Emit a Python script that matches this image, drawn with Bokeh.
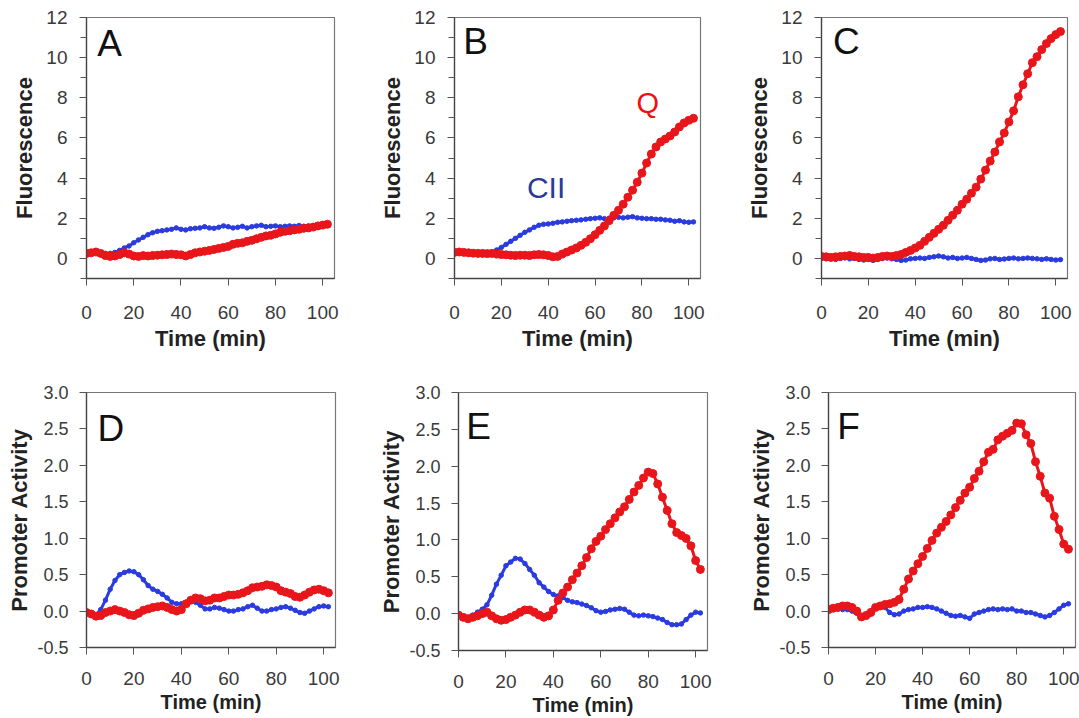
from bokeh.plotting import figure
from bokeh.layouts import column, row
from bokeh.models import FixedTicker, Range1d, Label, NumeralTickFormatter
from bokeh.embed import file_html
from bokeh.resources import INLINE

TIME = list(range(0, 104, 2))

A_CII = [0.30, 0.32, 0.30, 0.28, 0.25, 0.25, 0.30, 0.40, 0.52, 0.62, 0.78, 0.92, 1.05, 1.18, 1.28, 1.35, 1.38, 1.42, 1.45, 1.52,
         1.45, 1.42, 1.48, 1.50, 1.52, 1.58, 1.52, 1.50, 1.55, 1.62, 1.58, 1.52, 1.55, 1.60, 1.52, 1.58, 1.62, 1.65, 1.58, 1.60,
         1.62, 1.58, 1.60, 1.62, 1.60, 1.64, 1.60, 1.62, 1.62, 1.65, 1.66, 1.68]
A_Q = [0.25, 0.28, 0.32, 0.25, 0.15, 0.10, 0.12, 0.20, 0.28, 0.22, 0.12, 0.10, 0.14, 0.12, 0.15, 0.16, 0.18, 0.20, 0.22, 0.20,
       0.18, 0.12, 0.20, 0.28, 0.32, 0.36, 0.40, 0.45, 0.50, 0.55, 0.60, 0.70, 0.75, 0.78, 0.85, 0.90, 0.98, 1.05, 1.12, 1.15,
       1.22, 1.30, 1.35, 1.38, 1.42, 1.45, 1.50, 1.52, 1.56, 1.62, 1.66, 1.70]
B_CII = [0.30, 0.32, 0.30, 0.28, 0.28, 0.25, 0.25, 0.28, 0.32, 0.42, 0.55, 0.70, 0.85, 1.00, 1.15, 1.30, 1.42, 1.55, 1.65, 1.70,
         1.72, 1.75, 1.80, 1.82, 1.85, 1.88, 1.90, 1.92, 1.95, 1.98, 2.00, 2.02, 1.98, 2.00, 2.02, 2.05, 2.02, 2.05, 2.08, 2.02,
         2.00, 1.98, 1.98, 1.95, 1.95, 1.92, 1.90, 1.85, 1.88, 1.82, 1.80, 1.82]
B_Q = [0.30, 0.32, 0.30, 0.28, 0.26, 0.25, 0.25, 0.24, 0.25, 0.22, 0.20, 0.18, 0.16, 0.15, 0.16, 0.16, 0.15, 0.18, 0.20, 0.18,
       0.15, 0.08, 0.10, 0.22, 0.32, 0.42, 0.52, 0.65, 0.80, 0.98, 1.18, 1.40, 1.62, 1.88, 2.15, 2.40, 2.70, 3.05, 3.40, 3.80,
       4.25, 4.75, 5.20, 5.55, 5.80, 5.95, 6.10, 6.30, 6.55, 6.75, 6.88, 6.98]
C_CII = [0.00, -0.02, 0.02, -0.05, 0.00, 0.03, -0.02, 0.00, -0.05, -0.08, -0.05, -0.10, -0.05, 0.00, 0.02, -0.02, -0.05, -0.10,
         -0.08, -0.02, 0.00, 0.02, 0.00, 0.05, 0.08, 0.12, 0.08, 0.02, 0.05, 0.00, 0.02, 0.05, 0.00, -0.05, -0.10, -0.08, -0.02,
         0.00, -0.05, -0.03, 0.00, 0.02, -0.02, 0.00, 0.02, 0.00, -0.02, -0.05, -0.02, -0.05, -0.08, -0.06]
C_Q = [0.10, 0.08, 0.05, 0.08, 0.10, 0.12, 0.15, 0.10, 0.08, 0.05, 0.05, 0.02, 0.05, 0.10, 0.12, 0.10, 0.15, 0.20, 0.30, 0.40,
       0.52, 0.65, 0.85, 1.05, 1.25, 1.45, 1.65, 1.90, 2.15, 2.40, 2.70, 2.95, 3.25, 3.55, 3.95, 4.40, 4.85, 5.30, 5.80, 6.25,
       6.80, 7.35, 8.05, 8.65, 9.20, 9.75, 10.05, 10.40, 10.70, 10.95, 11.15, 11.30]
D_CII = [-0.02, -0.03, -0.05, 0.02, 0.15, 0.30, 0.42, 0.50, 0.53, 0.55, 0.54, 0.50, 0.43, 0.35, 0.30, 0.27, 0.23, 0.18, 0.12,
         0.10, 0.10, 0.12, 0.14, 0.12, 0.08, 0.03, 0.03, 0.05, 0.04, 0.02, 0.00, 0.00, 0.02, 0.03, 0.06, 0.08, 0.04, 0.00, 0.00,
         0.02, 0.03, 0.05, 0.06, 0.04, 0.01, -0.02, -0.03, 0.00, 0.03, 0.06, 0.07, 0.06]
D_Q = [-0.02, -0.04, -0.07, -0.06, -0.02, 0.00, 0.02, 0.00, -0.02, -0.05, -0.06, -0.03, 0.01, 0.03, 0.05, 0.06, 0.07, 0.05,
       0.02, 0.00, 0.02, 0.10, 0.15, 0.18, 0.17, 0.14, 0.15, 0.18, 0.18, 0.20, 0.22, 0.22, 0.23, 0.25, 0.28, 0.32, 0.33, 0.34,
       0.36, 0.35, 0.33, 0.28, 0.26, 0.24, 0.20, 0.19, 0.22, 0.26, 0.29, 0.30, 0.28, 0.25]
E_CII = [-0.02, -0.04, -0.05, -0.02, 0.02, 0.06, 0.12, 0.25, 0.40, 0.52, 0.65, 0.70, 0.75, 0.74, 0.68, 0.60, 0.52, 0.42, 0.36,
         0.30, 0.26, 0.24, 0.22, 0.18, 0.16, 0.15, 0.13, 0.11, 0.08, 0.04, 0.02, 0.03, 0.05, 0.06, 0.07, 0.06, 0.02, -0.02, -0.03,
         -0.02, -0.03, -0.04, -0.06, -0.08, -0.12, -0.15, -0.15, -0.14, -0.08, -0.02, 0.02, 0.01]
E_Q = [-0.02, -0.05, -0.07, -0.05, -0.03, 0.00, 0.02, -0.03, -0.07, -0.09, -0.08, -0.05, -0.02, 0.02, 0.05, 0.05, 0.02, -0.02,
       -0.05, -0.03, 0.05, 0.18, 0.28, 0.36, 0.46, 0.55, 0.65, 0.76, 0.88, 0.98, 1.05, 1.14, 1.22, 1.30, 1.38, 1.45, 1.55, 1.65,
       1.74, 1.84, 1.92, 1.90, 1.76, 1.58, 1.40, 1.22, 1.10, 1.06, 1.02, 0.92, 0.72, 0.60]
F_CII = [0.00, 0.02, 0.03, 0.02, 0.02, 0.00, -0.03, -0.08, -0.06, 0.00, 0.05, 0.06, 0.05, -0.02, -0.05, -0.04, 0.00, 0.02, 0.03,
         0.05, 0.05, 0.06, 0.05, 0.03, 0.00, -0.03, -0.06, -0.07, -0.06, -0.08, -0.10, -0.04, -0.02, 0.00, 0.02, 0.03, 0.02, 0.03,
         0.02, 0.03, 0.00, 0.00, -0.02, -0.02, -0.04, -0.06, -0.08, -0.06, -0.02, 0.03, 0.08, 0.10]
F_Q = [0.02, 0.04, 0.05, 0.07, 0.07, 0.05, 0.00, -0.08, -0.06, -0.02, 0.05, 0.07, 0.09, 0.10, 0.12, 0.16, 0.30, 0.44, 0.55,
       0.65, 0.75, 0.86, 0.97, 1.07, 1.15, 1.23, 1.32, 1.42, 1.52, 1.62, 1.70, 1.82, 1.92, 2.05, 2.18, 2.22, 2.35, 2.40, 2.44,
       2.48, 2.58, 2.57, 2.42, 2.30, 2.05, 1.85, 1.62, 1.55, 1.30, 1.12, 0.92, 0.85]

PANEL_LETTERS = ["A", "B", "C", "D", "E", "F"]
X_TICKS = [0, 20, 40, 60, 80, 100]
FLUO_TICKS = [0, 2, 4, 6, 8, 10, 12]
FLUO_MINOR = [-1, 1, 3, 5, 7, 9, 11]
ACT_TICKS = [-0.5, 0.0, 0.5, 1.0, 1.5, 2.0, 2.5, 3.0]

RED = "#e8161b"
BLUE = "#2a3be0"
FONT = "Liberation Sans"


def make_panel(letter, cii, q, top_row, fw, fh, bl, br, bt, bb, lx, ly):
    if top_row:
        yr = Range1d(-1, 12)
    else:
        yr = Range1d(-0.5, 3.0)
    p = figure(frame_width=fw, frame_height=fh, x_range=Range1d(0, 105), y_range=yr,
               output_backend="svg", toolbar_location=None, tools="",
               min_border_left=bl, min_border_right=br, min_border_top=bt, min_border_bottom=bb)
    p.grid.visible = False
    p.outline_line_color = "#777777"
    p.outline_line_width = 1.2
    p.background_fill_color = "white"
    p.border_fill_color = "white"
    for ax in (p.xaxis[0], p.yaxis[0]):
        ax.axis_line_color = "#444444"
        ax.axis_line_width = 1.3
        ax.major_tick_line_color = "#555555"
        ax.minor_tick_line_color = "#555555"
        ax.major_tick_in = 0
        ax.major_tick_out = 7
        ax.minor_tick_in = 0
        ax.minor_tick_out = 6
        ax.major_label_text_font = FONT
        ax.major_label_text_color = "#3a3a3a"
        ax.axis_label_text_font = FONT
        ax.axis_label_text_font_style = "bold"
        ax.axis_label_text_color = "#222222"
        ax.axis_label_text_font_size = "22px"
    p.xaxis.ticker = FixedTicker(ticks=X_TICKS, minor_ticks=[])
    p.xaxis.axis_label = "Time (min)"
    if top_row:
        p.yaxis.ticker = FixedTicker(ticks=FLUO_TICKS, minor_ticks=FLUO_MINOR)
        p.yaxis.axis_label = "Fluorescence"
        p.xaxis.major_label_text_font_size = "19px"
        p.yaxis.major_label_text_font_size = "19px"
        p.xaxis.major_label_standoff = 20
        p.xaxis.axis_label_standoff = 4
        p.yaxis.major_label_standoff = 12
        p.yaxis.axis_label_standoff = 6
    else:
        p.yaxis.ticker = FixedTicker(ticks=ACT_TICKS, minor_ticks=[])
        p.yaxis.formatter = NumeralTickFormatter(format="0.0")
        p.yaxis.axis_label = "Promoter Activity"
        p.xaxis.axis_label_text_font_size = "20px"
        p.xaxis.major_label_text_font_size = "19px"
        p.yaxis.major_label_text_font_size = "18px"
        p.xaxis.major_label_standoff = 17
        p.xaxis.axis_label_standoff = 3
        p.yaxis.major_label_standoff = 11
        p.yaxis.axis_label_standoff = 2

    p.line(TIME, cii, line_color=BLUE, line_width=3)
    p.scatter(TIME, cii, size=4.5, fill_color=BLUE, line_color=BLUE)
    p.line(TIME, q, line_color=RED, line_width=3)
    p.scatter(TIME, q, size=8, fill_color=RED, line_color=RED)

    p.add_layout(Label(x=lx, y=ly, text=letter, text_font=FONT, text_font_size="37px",
                       text_color="#111111", text_baseline="alphabetic"))
    return p


pa = make_panel("A", A_CII, A_Q, True, 248, 261, 86, 42, 17, 82, 4.6, 10.7)
pb = make_panel("B", B_CII, B_Q, True, 246, 261, 78, 44, 17, 82, 3.7, 10.8)
pc = make_panel("C", C_CII, C_Q, True, 246, 261, 74, 8, 17, 82, 4.9, 10.8)
pd = make_panel("D", D_CII, D_Q, False, 249, 255, 86, 41, 32, 70, 4.6, 2.50)
pe = make_panel("E", E_CII, E_Q, False, 249, 258, 78, 39, 29, 70, 3.3, 2.54)
pf = make_panel("F", F_CII, F_Q, False, 247, 255, 76, 12, 32, 70, 3.7, 2.53)

pb.add_layout(Label(x=30.9, y=3.55, text="CII", text_font=FONT, text_font_size="30px",
                    text_color="#2a3a9a", text_baseline="alphabetic"))
pb.add_layout(Label(x=77.7, y=7.72, text="Q", text_font=FONT, text_font_size="29px",
                    text_color="#ee1111", text_baseline="alphabetic"))

layout = column(row(pa, pb, pc), row(pd, pe, pf))
open("out.html", "w").write(file_html(layout, INLINE))
